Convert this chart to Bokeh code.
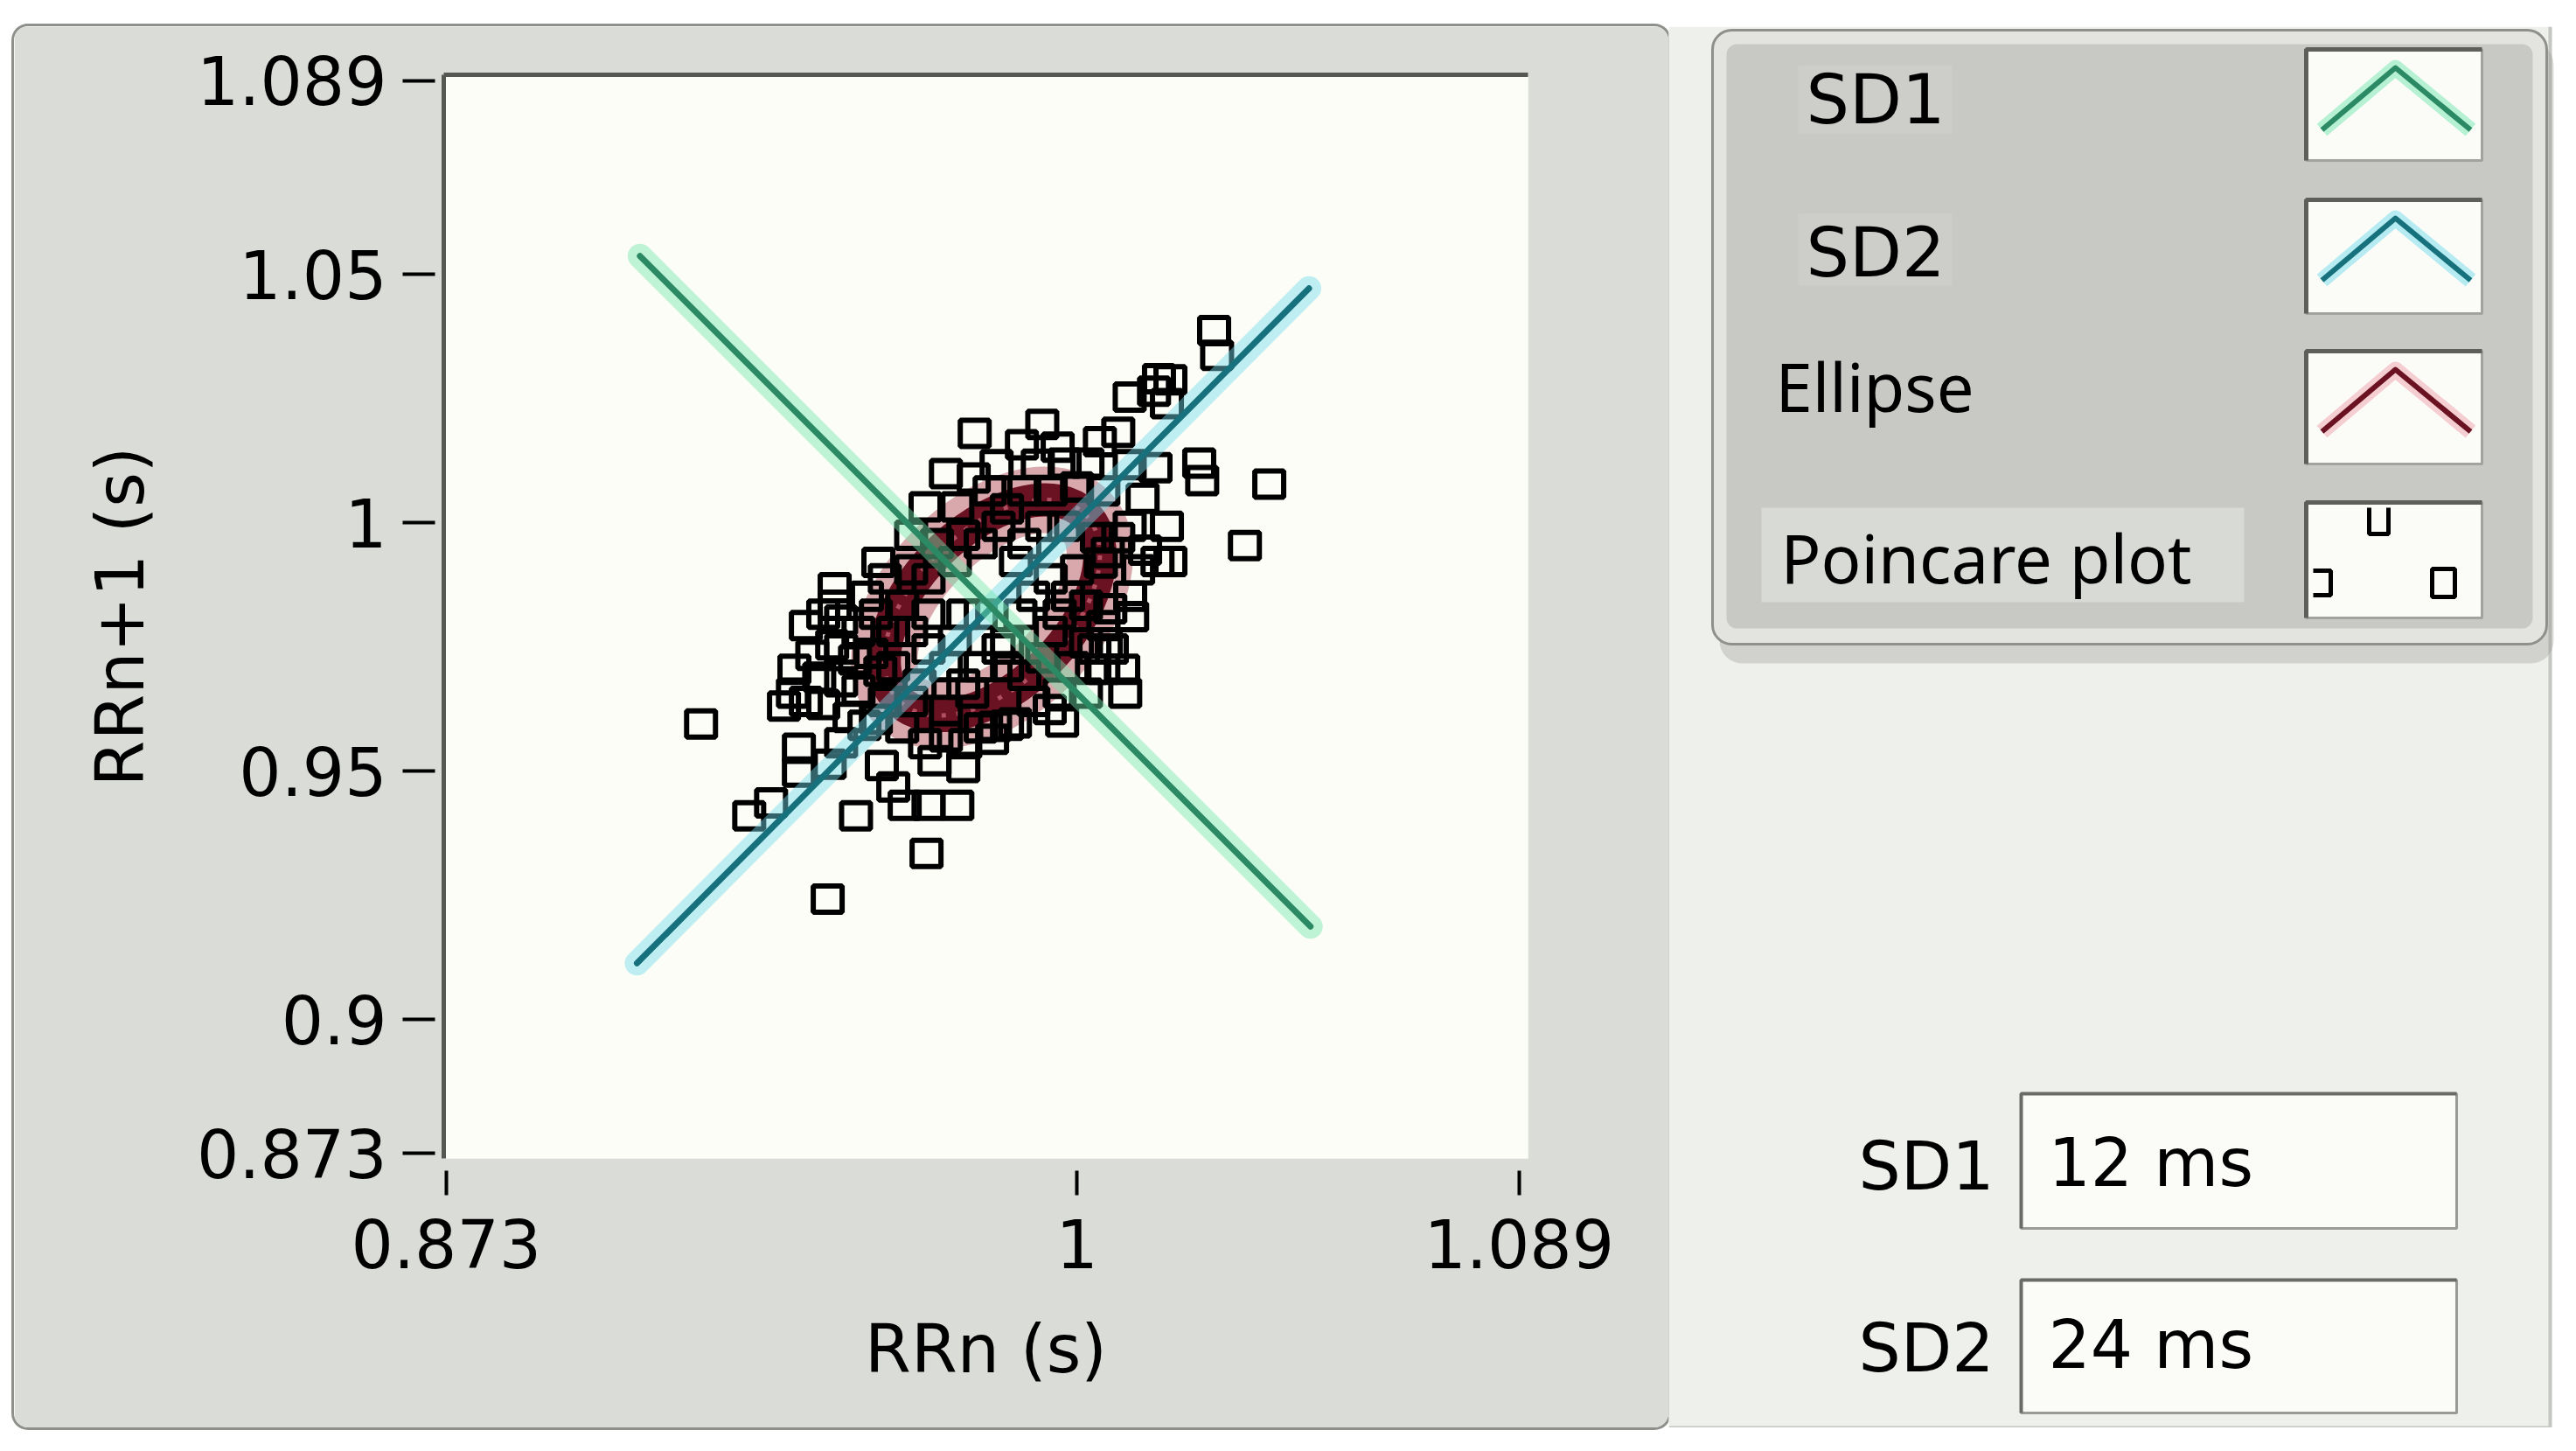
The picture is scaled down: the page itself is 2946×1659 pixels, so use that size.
from bokeh.plotting import figure
from bokeh.models import Range1d, FixedTicker, CustomJSTickFormatter, LinearAxis, Spacer
from bokeh.layouts import row, column
from bokeh.embed import file_html
from bokeh.resources import INLINE
from bokeh.core.properties import value

# ---------------- data ----------------
rr_n = [1.0276, 1.0282, 1.0165, 1.0188, 1.0181, 1.0106, 1.0155, 0.9930, 0.9794, 0.9889,
        0.9961, 1.0046, 1.0083, 0.9838, 0.9921, 0.9975, 1.0021, 0.9792, 1.0158, 1.0246,
        1.0252, 1.0387, 1.0132, 1.0181, 1.0040, 1.0083, 1.0162, 1.0188, 1.0338, 0.9695,
        0.9759, 0.9600, 0.9512, 0.9512, 1.0062, 1.0048, 1.0137, 1.0107, 1.0067, 1.0111,
        1.0053, 1.0058, 1.0018, 1.0093, 1.0053, 1.0030, 0.9970, 0.9965, 0.9945, 0.9912,
        0.9829, 0.9859, 0.9835, 0.9875, 0.9775, 0.9694, 0.9771, 0.9713, 0.9630, 0.9653,
        0.9701, 0.9759, 0.9607, 0.9697, 0.9555, 0.9498, 0.9340, 0.9384, 0.9440, 0.9440,
        0.9502, 0.9542, 0.9489, 0.9410, 0.9431, 0.9481, 0.9525, 0.9467, 0.9454, 0.9525,
        0.9560, 0.9560, 0.9572, 0.9525, 0.9553, 0.9243, 0.9859, 0.9754, 0.9806, 0.9877,
        0.9912, 0.9771, 0.9842, 0.9736, 0.9701, 0.9947, 0.9930, 0.9666, 0.9648, 0.9894,
        0.9789, 0.9736, 0.9630, 0.9595, 0.9982, 1.0000, 0.9974, 0.9859, 0.9666, 0.9613,
        0.9683, 0.9806, 0.9886, 0.9507, 0.9586, 0.9604, 0.9428, 1.0000, 1.0053, 0.9947,
        1.0106, 1.0070, 1.0097, 1.0018, 0.9991, 1.0123, 1.0106,
        0.9666, 0.9701, 0.9754, 0.9806, 0.9771, 0.9859, 0.9930, 0.9965, 0.9894, 0.9771,
        0.9718, 0.9842, 0.9701, 0.9630, 0.9577, 0.9613, 1.0018, 1.0035, 0.9947, 0.9824,
        0.9894, 0.9736, 0.9489, 0.9525, 0.9454, 0.9595, 0.9648, 0.9666, 0.9736, 0.9806]
rr_n1 = [1.0387, 1.0337, 1.0290, 1.0288, 1.0240, 1.0253, 1.0265, 1.0198, 1.0180, 1.0157,
         1.0152, 1.0163, 1.0182, 1.0117, 1.0118, 1.0120, 1.0120, 1.0090, 1.0111, 1.0120,
         1.0085, 1.0078, 1.0049, 0.9993, 0.9970, 0.9970, 0.9922, 0.9922, 0.9954, 1.0032,
         1.0032, 0.9920, 0.9869, 0.9834, 0.9940, 0.9919, 0.9945, 0.9852, 0.9827, 0.9811,
         0.9793, 0.9758, 0.9758, 0.9705, 0.9705, 0.9705, 0.9599, 0.9657, 0.9624, 0.9640,
         0.9564, 0.9592, 0.9590, 0.9597, 0.9555, 0.9555, 0.9507, 0.9521, 0.9468, 0.9431,
         0.9431, 0.9431, 0.9511, 0.9334, 0.9410, 0.9242, 0.9410, 0.9436, 0.9546, 0.9498,
         0.9514, 0.9608, 0.9634, 0.9631, 0.9705, 0.9689, 0.9680, 0.9733, 0.9793, 0.9804,
         0.9781, 0.9663, 0.9592, 0.9557, 0.9724, 0.9595, 0.9758, 0.9922, 0.9958, 0.9922,
         0.9852, 0.9816, 0.9746, 0.9710, 0.9816, 0.9781, 0.9993, 0.9905, 0.9834, 0.9693,
         0.9657, 0.9622, 0.9710, 0.9816, 0.9852, 0.9905, 0.9993, 1.0028, 0.9975, 0.9640,
         0.9675, 0.9816, 0.9816, 0.9754, 0.9737, 0.9701, 0.9657, 1.0072, 1.0064, 1.0064,
         1.0117, 0.9746, 0.9657, 0.9657, 0.9710, 0.9905, 0.9993,
         0.9781, 0.9746, 0.9763, 0.9710, 0.9675, 0.9710, 0.9728, 0.9816, 0.9958, 0.9975,
         0.9958, 0.9993, 0.9887, 0.9781, 0.9852, 0.9887, 0.9834, 0.9746, 0.9887, 1.0064,
         1.0064, 1.0099, 0.9816, 0.9746, 0.9640, 0.9604, 0.9587, 0.9640, 0.9569, 0.9587]

sd1_line_x = [0.9120, 1.0470]
sd1_line_y = [1.0537, 0.9187]
sd2_line_x = [0.9114, 1.0467]
sd2_line_y = [0.9113, 1.0472]

ellipse_cx = [0.9829]
ellipse_cy = [0.9829]
ellipse_major = [0.053]   # full length along the identity line
ellipse_minor = [0.031]
ellipse_angle = [45]

x_ticks = [0.873, 1.0, 1.089]
y_ticks = [0.873, 0.9, 0.95, 1.0, 1.05, 1.089]
x_label = "RRn (s)"
y_label = "RRn+1 (s)"

legend_labels = ["SD1", "SD2", "Ellipse", "Poincare plot"]
sd_names = ["SD1", "SD2"]
sd_values_ms = [12, 24]

# colours
SD1_COL, SD1_GLOW = "#2b8a63", "#74e6ad"
SD2_COL, SD2_GLOW = "#16717c", "#74d9ec"
ELL_COL, ELL_GLOW = "#6a1222", "#b04050"
PANEL = "#d9dcd7"
PLOT_BG = "#fcfdf7"
FONT = "DejaVu Sans"

# ---------------- main graph ----------------
p = figure(width=1892, height=1602,
           x_range=Range1d(0.8725, 1.0908), y_range=Range1d(0.8720, 1.0902),
           output_backend="svg", toolbar_location=None,
           min_border_left=491, min_border_right=161, min_border_top=55, min_border_bottom=308,
           background_fill_color=PLOT_BG, border_fill_color=PANEL, outline_line_color=None)
p.frame_align = False
p.xgrid.visible = False
p.ygrid.visible = False
p.styles = {"border-radius": "16px", "overflow": "hidden",
            "box-shadow": "0 0 0 3px #8e908c"}

fmt = CustomJSTickFormatter(code="return String(parseFloat(tick.toFixed(3)));")

xa = p.xaxis[0]
xa.ticker = FixedTicker(ticks=x_ticks)
xa.formatter = fmt
xa.axis_line_color = None
xa.major_tick_in = -14
xa.major_tick_out = 42
xa.major_tick_line_width = 4
xa.major_tick_line_color = "black"
xa.minor_tick_line_color = None
xa.major_label_text_font = FONT
xa.major_label_text_font_size = "76px"
xa.major_label_text_color = "black"
xa.major_label_standoff = 27
xa.axis_label = x_label
xa.axis_label_text_font = FONT
xa.axis_label_text_font_size = "76px"
xa.axis_label_text_font_style = "normal"
xa.axis_label_text_color = "black"
xa.axis_label_standoff = 45

ya = p.yaxis[0]
ya.ticker = FixedTicker(ticks=y_ticks)
ya.formatter = fmt
ya.axis_line_color = "#555753"
ya.axis_line_width = 5
ya.major_tick_in = -10
ya.major_tick_out = 47
ya.major_tick_line_width = 4
ya.major_tick_line_color = "black"
ya.minor_tick_line_color = None
ya.major_label_text_font = FONT
ya.major_label_text_font_size = "76px"
ya.major_label_text_color = "black"
ya.major_label_standoff = 18
ya.axis_label = y_label
ya.axis_label_text_font = FONT
ya.axis_label_text_font_size = "76px"
ya.axis_label_text_font_style = "normal"
ya.axis_label_text_color = "black"
ya.axis_label_standoff = 40

top_axis = LinearAxis(ticker=FixedTicker(ticks=[]), axis_line_color="#555753", axis_line_width=5,
                      major_tick_out=0, major_tick_in=0, minor_tick_out=0, minor_tick_in=0,
                      major_label_text_font_size="0px")
p.add_layout(top_axis, "above")

# ellipse
p.ellipse(x=ellipse_cx, y=ellipse_cy, width=ellipse_major, height=ellipse_minor,
          angle=ellipse_angle, angle_units="deg", fill_color=None,
          line_color=ELL_GLOW, line_alpha=0.45, line_width=76)
p.ellipse(x=ellipse_cx, y=ellipse_cy, width=ellipse_major, height=ellipse_minor,
          angle=ellipse_angle, angle_units="deg", fill_color=None,
          line_color=ELL_COL, line_width=38)
p.ellipse(x=ellipse_cx, y=ellipse_cy, width=ellipse_major, height=ellipse_minor,
          angle=ellipse_angle, angle_units="deg", fill_color=None,
          line_color="#e07888", line_alpha=0.6, line_width=5, line_dash="5 12")

# Poincare points
p.rect(x=rr_n, y=rr_n1, width=33, height=30, width_units="screen", height_units="screen",
       fill_color=None, line_color="black", line_width=6)

# SD2 and SD1 lines with glow
p.line(sd2_line_x, sd2_line_y, line_color=SD2_GLOW, line_alpha=0.45, line_width=28, line_cap="round")
p.line(sd2_line_x, sd2_line_y, line_color=SD2_COL, line_width=7, line_cap="round")
p.line(sd1_line_x, sd1_line_y, line_color=SD1_GLOW, line_alpha=0.45, line_width=28, line_cap="round")
p.line(sd1_line_x, sd1_line_y, line_color=SD1_COL, line_width=7, line_cap="round")

# ---------------- right side: legend and indicators ----------------
r = figure(width=1030, height=1602, x_range=Range1d(1908, 2938), y_range=Range1d(1632, 30),
           output_backend="svg", toolbar_location=None, min_border=0,
           background_fill_color="white", border_fill_color="white", outline_line_color=None,
           x_axis_location=None, y_axis_location=None)
r.frame_align = False
r.grid.visible = False

# light panel
r.quad(left=1908, right=2916, top=30, bottom=1632, fill_color="#eef0eb", line_color=None)
r.segment(x0=[2916, 1908], y0=[30, 1632], x1=[2916, 2916], y1=[1632, 1632],
          line_color="#c4c6c2", line_width=4)

# legend box
r.quad(left=1966, right=2920, top=48, bottom=758, fill_color="#8e908c", fill_alpha=0.3,
       line_color=None, border_radius=26)
r.quad(left=1958, right=2912, top=34, bottom=736, fill_color="#e3e4e0",
       line_color="#8f908c", line_width=3, border_radius=22)
r.quad(left=1974, right=2896, top=50, bottom=718, fill_color="#c8c9c5",
       line_color=None, border_radius=12)
# label highlight boxes
r.quad(left=[2056, 2056, 2014], right=[2232, 2232, 2566], top=[74, 244, 580], bottom=[152, 326, 688],
       fill_color=["#cdceca", "#cdceca", "#d8dad6"], line_color=None)

sw_top = [56, 228, 401, 574]
sw_bot = [183, 358, 530, 706]
r.quad(left=2637, right=2838, top=sw_top, bottom=sw_bot, fill_color="#fbfcf8",
       line_color="#a2a39f", line_width=3)
for t, b in zip(sw_top, sw_bot):
    r.line([2637, 2637, 2838], [b, t, t], line_color="#5e5f5b", line_width=5)

chev_x = [2655, 2739, 2825]
for t, col, glow in zip(sw_top[:3], [SD1_COL, SD2_COL, ELL_COL], [SD1_GLOW, SD2_GLOW, "#f0a0aa"]):
    cy = [t + 92, t + 21, t + 92]
    r.line(chev_x, cy, line_color=glow, line_alpha=0.5, line_width=18, line_join="round")
    r.line(chev_x, cy, line_color=col, line_width=6, line_join="round")

# Poincare swatch sample points
r.multi_line(xs=[[2709, 2709, 2731, 2731], [2645, 2665, 2665, 2645]],
             ys=[[580, 610, 610, 580], [652, 652, 680, 680]],
             line_color="black", line_width=5)
r.rect(x=[2794], y=[666], width=26, height=32, fill_color=None, line_color="black", line_width=5)

# legend texts
r.text(x=[2065, 2065], y=[113, 288], text=legend_labels[:2], text_font=value(FONT),
       text_font_size="78px", text_color="black", text_baseline="alphabetic", text_align="left")
r.text(x=[2030, 2036], y=[441, 637], text=legend_labels[2:], text_font=value("Noto Sans"),
       text_font_size="76px", text_color="black", text_baseline="alphabetic", text_align="left")

# SD indicators
box_top = [1250, 1463]
box_bot = [1404, 1615]
r.quad(left=2311, right=2809, top=box_top, bottom=box_bot, fill_color="#fbfcf8",
       line_color="#9a9b97", line_width=3)
for t, b in zip(box_top, box_bot):
    r.line([2311, 2311, 2809], [b, t, t], line_color="#6a6b67", line_width=4)
r.text(x=[2280, 2280], y=[1333, 1541], text=sd_names, text_font=value(FONT),
       text_font_size="76px", text_color="black", text_baseline="alphabetic", text_align="right")
r.text(x=[2342, 2342], y=[1329, 1537], text=[f"{v} ms" for v in sd_values_ms], text_font=value(FONT),
       text_font_size="76px", text_color="black", text_baseline="alphabetic", text_align="left")

layout = column(Spacer(height=30), row(Spacer(width=16), p, r, spacing=0), spacing=0)
open("out.html", "w").write(file_html(layout, INLINE))
